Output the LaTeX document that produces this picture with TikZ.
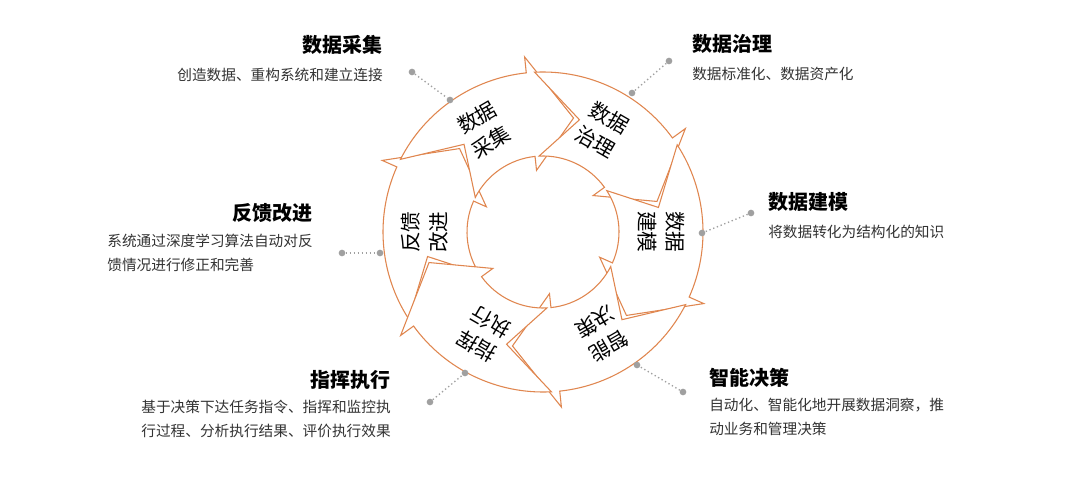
\documentclass[tikz,border=0pt]{standalone}
\usepackage{fontspec}
\setmainfont{Noto Sans CJK SC}
\usetikzlibrary{calc}
\definecolor{ringorange}{HTML}{E0864F}
\definecolor{desctext}{HTML}{333333}
\definecolor{dotgray}{HTML}{A0A0A0}
\tikzset{
  seg/.style={draw=ringorange,fill=white,line width=0.8pt,line join=miter},
  segtext/.style={font=\fontsize{15.5}{21}\selectfont,align=center,inner sep=0pt},
  title/.style={font=\fontsize{15}{18}\selectfont\bfseries,inner sep=0pt},
  desc/.style={font=\fontsize{11}{18}\selectfont,text=desctext,inner sep=0pt},
  leader/.style={draw=dotgray,dotted,line width=1pt},
  dotend/.style={circle,fill=dotgray,inner sep=0pt,minimum size=5pt},
}
\begin{document}
\begin{tikzpicture}[x=0.75pt,y=0.75pt]
    % frame
    \useasboundingbox (0,0) rectangle (1080,479);
    \fill[white] (0,0) rectangle (1080,479);
    \coordinate (O) at (543,247);
    % ring of arrows
    \begin{scope}[shift={(O)}]
    \def\R{160}\def\r{76}\def\m{118}
    \foreach \c in {180,120,60,0,-60,-120}{
      \draw[seg] (\c+33:\R) arc[start angle=\c+33,end angle=\c-24,radius=\R]
        -- (\c-24:\R+16) -- (\c-45:\m) -- (\c-24:\r-14) -- (\c-24:\r)
        arc[start angle=\c-24,end angle=\c+33,radius=\r]
        -- (\c+12:\m) -- cycle;
    }
    \node[segtext,rotate=30] (s1) at (120:\m) {数据\\采集};
    \node[segtext,rotate=-30] (s2) at (60:\m) {数据\\治理};
    \node[segtext,rotate=-90] (s3) at (0:\m) {数据\\建模};
    \node[segtext,rotate=-150] (s4) at (-60:\m) {智能\\决策};
    \node[segtext,rotate=150] (s5) at (-120:\m) {指挥\\执行};
    \node[segtext,rotate=90] (s6) at (180:\m) {反馈\\改进};
    \end{scope}
    % add labels
    \node[title,anchor=east] (t1) at (383,434) {数据采集};
    \node[desc,anchor=east] (d1) at (383,404) {创造数据、重构系统和建立连接};
    \node[title,anchor=west] (t2) at (692,435) {数据治理};
    \node[desc,anchor=west] (d2) at (692,405) {数据标准化、数据资产化};
    \node[title,anchor=west] (t3) at (768,277) {数据建模};
    \node[desc,anchor=west] (d3) at (768,247) {将数据转化为结构化的知识};
    \node[title,anchor=west] (t4) at (709,101) {智能决策};
    \node[desc,anchor=north west,align=left] (d4) at (709,81) {自动化、智能化地开展数据洞察，推\\动业务和管理决策};
    \node[title,anchor=east] (t5) at (391,99) {指挥执行};
    \node[desc,anchor=north east,align=left] (d5) at (391,79) {基于决策下达任务指令、指挥和监控执\\行过程、分析执行结果、评价执行效果};
    \node[title,anchor=east] (t6) at (313,266) {反馈改进};
    \node[desc,anchor=north east,align=left] (d6) at (313,245) {系统通过深度学习算法自动对反\\馈情况进行修正和完善};
    % leader lines
    \node[dotend] (a1) at (412,407) {}; \node[dotend] (b1) at (450,379) {};
    \node[dotend] (a2) at (669,418) {}; \node[dotend] (b2) at (632,386) {};
    \node[dotend] (a3) at (751,266) {}; \node[dotend] (b3) at (702,246) {};
    \node[dotend] (a4) at (683,87) {}; \node[dotend] (b4) at (637,114) {};
    \node[dotend] (a5) at (430,77) {}; \node[dotend] (b5) at (465,106) {};
    \node[dotend] (a6) at (342,226) {}; \node[dotend] (b6) at (380,226) {};
    \foreach \i in {1,...,6}{\draw[leader] (a\i) -- (b\i);}
\end{tikzpicture}
\end{document}
